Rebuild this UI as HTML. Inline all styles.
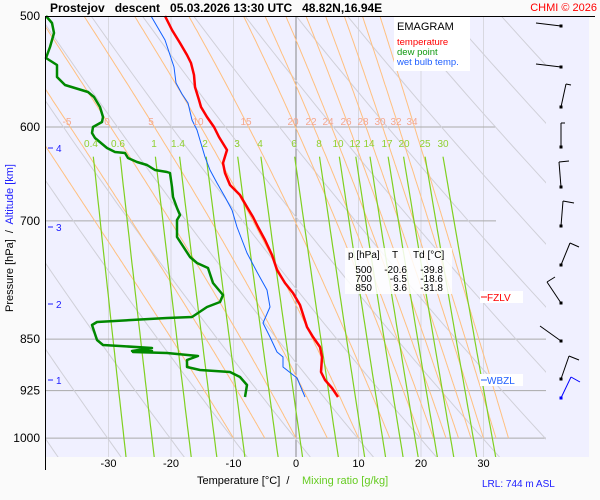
<!DOCTYPE html>
<html><head><meta charset="utf-8"><style>
html,body{margin:0;padding:0;background:#fafafa;}
svg{display:block;font-family:"Liberation Sans",Arial,sans-serif;}
text{white-space:pre;}
</style></head><body>
<svg id="s" width="600" height="500" xmlns="http://www.w3.org/2000/svg">
<defs><clipPath id="c"><rect x="45" y="16" width="501" height="441"/></clipPath></defs>
<rect x="45" y="16" width="544" height="441" fill="#f0f0ff"/>
<g id="grid" clip-path="url(#c)"></g>
<g id="data"></g>
<g id="ov"></g>
</svg>
<script>
const NS="http://www.w3.org/2000/svg";
function Y(p){return 16+609*Math.log(p/500);}
function X(T){return 296+6.25*T;}
function el(par,tag,a,txt){const e=document.createElementNS(NS,tag);for(const k in a)e.setAttribute(k,a[k]);if(txt!==undefined)e.textContent=txt;document.getElementById(par).appendChild(e);return e;}
function pl(par,pts,col,w){el(par,'polyline',{points:pts.map(q=>q[0].toFixed(1)+','+q[1].toFixed(1)).join(' '),fill:'none',stroke:col,'stroke-width':w,'stroke-linejoin':'round'});}
for(let T=-30;T<=30;T+=10){el('grid','line',{x1:X(T),y1:16,x2:X(T),y2:457,stroke:T==0?'#888':'#d8d8e0','stroke-width':1});}
[[500,496],[600,496],[700,496],[850,546],[925,546],[1000,546]].forEach(a=>{el('grid','line',{x1:45,y1:Y(a[0]),x2:a[1],y2:Y(a[0]),stroke:'#aaa','stroke-width':1});});
for(let th=233;th<=473;th+=10){const pts=[];for(let p=470;p<=1060;p+=10){pts.push([X(th*Math.pow(p/1000,0.2857)-273.15),Y(p)]);}pl('grid',pts,'#d0d0d8',1);}
function es(T){return 6.112*Math.exp(17.67*T/(T+243.5));}
[-10,-5,0,5,10,15,20,22,24,26,28,30,32,34].forEach(tw=>{let T=tw,pts=[[X(T),Y(1000)]];for(let p=1000;p>470;p-=2){const Tk=T+273.15,e=es(T),rs=0.622*e/(p-e);const d=(287*Tk+2.5e6*rs)/(p*(1005+2.5e6*2.5e6*rs*0.622/(287*Tk*Tk)));T-=d*2;pts.push([X(T),Y(p-2)]);}pl('grid',pts,'#ffc080',1);});
const mw=[0.4,0.6,1,1.4,2,3,4,6,8,10,12,14,17,20,25,30];
mw.forEach(w=>{const pts=[];for(let p=630;p<=1060;p+=10){const e=w*p/(622+w),l=Math.log(e/6.112);pts.push([X(243.5*l/(17.67-l)),Y(p)]);}pl('grid',pts,'#7fd020',1.2);});
const ol=[[-5,67],[0,107],[5,151],[10,198],[15,246],[20,293],[22,311],[24,328],[26,346],[28,363],[30,380],[32,396],[34,412]];
ol.forEach(a=>el('ov','text',{x:a[1],y:125,'font-size':10,fill:'#f4a890','text-anchor':'middle'},a[0]));
const gl=[[0.4,91],[0.6,118],[1,154],[1.4,178],[2,205],[3,237],[4,260],[6,294],[8,319],[10,338],[12,355],[14,369],[17,387],[20,404],[25,425],[30,443]];
gl.forEach(a=>el('ov','text',{x:a[1],y:147,'font-size':10,fill:'#90d030','text-anchor':'middle'},a[0]));
const red=[[165,16],[172,30],[180,43],[187,55],[191,63],[194,75],[195,87],[199,100],[201,107],[207,117],[214,127],[219,137],[227,150],[223,163],[225,173],[230,185],[240,195],[247,207],[253,217],[258,227],[265,240],[272,255],[277,270],[285,283],[293,293],[300,305],[307,327],[313,337],[320,347],[322,357],[321,372],[325,380],[332,388],[338,397]];
pl('data',red,'#ff0000',2.5);
const grn=[[46,16],[52,23],[54,33],[50,47],[46,58],[57,65],[57,77],[65,85],[88,92],[94,97],[100,107],[103,117],[102,122],[93,127],[92,133],[95,138],[107,148],[115,152],[125,153],[128,158],[137,162],[147,165],[155,170],[167,172],[170,173],[172,187],[173,197],[177,208],[180,215],[177,220],[177,237],[190,257],[197,263],[208,268],[213,283],[223,295],[220,302],[207,307],[192,317],[167,318],[97,322],[92,325],[97,340],[103,345],[120,346],[152,348],[132,351],[152,351],[133,352],[167,353],[198,356],[187,360],[187,367],[200,370],[230,372],[240,377],[247,385],[245,397]];
pl('data',grn,'#008800',2.5);
const blu=[[151,16],[158,28],[165,40],[170,55],[174,67],[176,83],[182,94],[188,103],[192,120],[197,130],[205,157],[210,170],[217,183],[225,197],[232,210],[237,227],[247,253],[257,272],[267,290],[270,307],[263,323],[270,337],[277,352],[283,357],[283,367],[297,378],[305,397]];
pl('data',blu,'#1060ff',1);
el('ov','line',{x1:45.5,y1:16,x2:45.5,y2:470,stroke:'#000'});
el('ov','line',{x1:45,y1:16.5,x2:595,y2:16.5,stroke:'#000'});
[[500],[600],[700],[850],[925],[1000]].forEach(a=>el('ov','text',{x:40,y:Y(a[0])+4,'font-size':12,'text-anchor':'end',fill:'#000'},a[0]));
[[4,148],[3,227],[2,304],[1,380]].forEach(a=>{el('ov','line',{x1:48,y1:a[1],x2:53,y2:a[1],stroke:'#2020ff'});el('ov','text',{x:56,y:a[1]+4,'font-size':10,fill:'#2020ff'},a[0]);});
for(let T=-30;T<=30;T+=10)el('ov','text',{x:X(T),y:467,'font-size':11,'text-anchor':'middle',fill:'#000'},T);
el('ov','text',{x:50,y:12,'font-size':12,'font-weight':'bold',fill:'#000'},'Prostejov   descent   05.03.2026 13:30 UTC   48.82N,16.94E');
el('ov','text',{x:597,y:11,'font-size':11,fill:'#ff0000','text-anchor':'end'},'CHMI © 2026');
const yt=el('ov','text',{transform:'translate(13,238) rotate(-90)','font-size':11,'text-anchor':'middle',fill:'#000'});
yt.innerHTML='Pressure [hPa]  /  <tspan fill="#2020ff">Altitude [km]</tspan>';
el('ov','text',{x:197,y:484,'font-size':11,fill:'#000'},'Temperature [°C]  /');
el('ov','text',{x:302,y:484,'font-size':11,fill:'#66cc22'},'Mixing ratio [g/kg]');
el('ov','text',{x:482,y:487,'font-size':10,fill:'#2020ff'},'LRL: 744 m ASL');
el('ov','rect',{x:394,y:17,width:76,height:54,fill:'#fff'});
el('ov','text',{x:397,y:30,'font-size':11,fill:'#000'},'EMAGRAM');
el('ov','text',{x:397,y:45,'font-size':9.5,fill:'#ff0000'},'temperature');
el('ov','text',{x:397,y:55,'font-size':9.5,fill:'#119911'},'dew point');
el('ov','text',{x:397,y:65,'font-size':9.5,fill:'#2060ff'},'wet bulb temp.');
el('ov','rect',{x:345,y:248,width:107,height:46,fill:'#fff','fill-opacity':0.85});
el('ov','text',{x:348,y:258,'font-size':10,fill:'#000'},'p [hPa]');
el('ov','text',{x:392,y:258,'font-size':10,fill:'#000'},'T');
el('ov','text',{x:413,y:258,'font-size':10,fill:'#000'},'Td [°C]');
[['500','-20.6','-39.8',273],['700','-6.5','-18.6',282],['850','3.6','-31.8',291]].forEach(r=>{el('ov','text',{x:372,y:r[3],'font-size':10,'text-anchor':'end',fill:'#000'},r[0]);el('ov','text',{x:407,y:r[3],'font-size':10,'text-anchor':'end',fill:'#000'},r[1]);el('ov','text',{x:443,y:r[3],'font-size':10,'text-anchor':'end',fill:'#000'},r[2]);});
el('ov','rect',{x:480,y:291,width:43,height:12,fill:'#fff'});
el('ov','line',{x1:481,y1:297,x2:487,y2:297,stroke:'#ff0000'});
el('ov','text',{x:487,y:301,'font-size':10,fill:'#ff0000'},'FZLV');
el('ov','rect',{x:480,y:374,width:43,height:12,fill:'#fff'});
el('ov','line',{x1:481,y1:380,x2:487,y2:380,stroke:'#2060ff'});
el('ov','text',{x:487,y:384,'font-size':10,fill:'#2060ff'},'WBZL');
const wb=[[26,536,23,null],[67,536,64,null],[107,566,84,[571,85]],[147,561,123,[565,123]],[187,559,162,[569,161]],[226,563,201,[574,203]],[265,570,243,[579,247]],[303,547,282,[555,277]],[341,540,326,null],[379,569,356,[579,360]]];
wb.forEach(b=>{el('ov','line',{x1:561,y1:b[0],x2:b[1],y2:b[2],stroke:'#000'});if(b[3])el('ov','line',{x1:b[1],y1:b[2],x2:b[3][0],y2:b[3][1],stroke:'#000'});el('ov','rect',{x:559.5,y:b[0]-1.5,width:3,height:3,fill:'#000'});});
el('ov','line',{x1:561,y1:398,x2:571,y2:377,stroke:'#0000ff'});
el('ov','line',{x1:571,y1:377,x2:580,y2:382,stroke:'#0000ff'});
el('ov','rect',{x:559.5,y:396.5,width:3,height:3,fill:'#0000ff'});
</script>
</body></html>
